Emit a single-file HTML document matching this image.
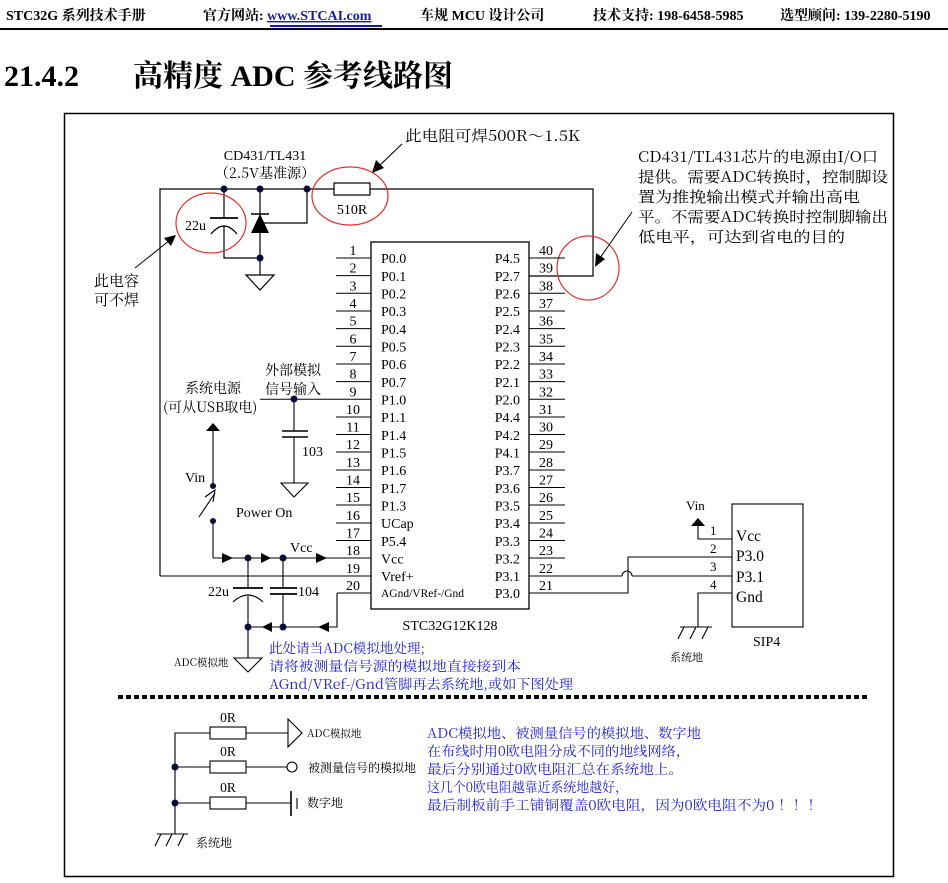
<!DOCTYPE html>
<html><head><meta charset="utf-8"><style>
html,body{margin:0;padding:0;background:#fff;width:948px;height:883px;overflow:hidden;}
svg{display:block;overflow:hidden;}
.s{font-family:"Liberation Serif","Noto Serif CJK SC",serif;}
.c{font-family:"Noto Serif CJK SC","Liberation Serif",serif;}
</style></head><body>
<svg width="948" height="883" viewBox="0 0 948 883" xmlns="http://www.w3.org/2000/svg">
<g class="s" font-size="14" font-weight="bold" fill="#000">
<text x="6" y="20">STC32G 系列技术手册</text>
<text x="203" y="20">官方网站: <tspan fill="#1a1aa6" text-decoration="underline">www.STCAI.com</tspan></text>
<text x="420" y="20">车规 MCU 设计公司</text>
<text x="593" y="20">技术支持: 198-6458-5985</text>
<text x="780" y="20">选型顾问: 139-2280-5190</text>
</g>
<rect x="270" y="25" width="112" height="2" fill="#1a1aa6"/>
<rect x="0" y="28" width="948" height="2" fill="#000"/>
<g class="s" font-size="30" font-weight="bold"><text x="4" y="86">21.4.2</text><text x="133" y="86">高精度 ADC 参考线路图</text></g>
<rect x="64.5" y="113.5" width="829" height="763" fill="none" stroke="#000" stroke-width="1.5"/>

<g stroke="#000" stroke-width="1.2" fill="none">
<polyline points="160,576 160,189 334,189"/>
<polyline points="370,189 593,189 593,276 529,276"/>
<rect x="334" y="183" width="36" height="12"/>
<line x1="224" y1="189" x2="224" y2="218"/>
<line x1="210" y1="218" x2="238" y2="218" stroke-width="1.8"/>
<path d="M211,234 Q224,218 237,234"/>
<polyline points="224,226 224,258 260,258"/>
<line x1="260" y1="189" x2="260" y2="275"/>
<line x1="251" y1="214" x2="269" y2="214" stroke-width="1.6"/>
<polyline points="260,223 307,223 307,189"/>
<polygon points="246,275 274,275 260,290"/>
</g>
<polygon points="251,233 269,233 260,214" fill="#000"/>
<g fill="#0a0a3a">
<circle cx="224" cy="189" r="3.5"/><circle cx="260" cy="189" r="3.5"/><circle cx="307" cy="189" r="3.5"/><circle cx="260" cy="258" r="3.5"/>
</g>
<g stroke="#e03030" stroke-width="1.2" fill="none">
<ellipse cx="211" cy="223" rx="35" ry="30"/>
<ellipse cx="350" cy="196" rx="38" ry="29"/>
<ellipse cx="588" cy="268" rx="31" ry="32"/>
</g>
<g stroke="#000" stroke-width="1">
<line x1="402" y1="144" x2="378" y2="167"/>
<line x1="135" y1="268" x2="170" y2="240"/>
<line x1="632" y1="212" x2="600" y2="258"/>
</g>
<polygon points="372,173 376,160 384,168" fill="#000"/>
<polygon points="176,235 164,238 171,246" fill="#000"/>
<polygon points="595,267 596,253 605,259" fill="#000"/>
<g class="s" font-size="14">
<text x="265" y="160" text-anchor="middle">CD431/TL431</text>
<text x="265" y="178" text-anchor="middle" class="c">（2.5V基准源）</text>
<text x="352" y="214" text-anchor="middle">510R</text>
<text x="185" y="230">22u</text>
</g>
<g class="c" font-size="15">
<text x="405" y="141" textLength="175" lengthAdjust="spacingAndGlyphs">此电阻可焊500R～1.5K</text>
<text x="94" y="286">此电容</text>
<text x="94" y="305">可不焊</text>
<text x="638" y="162" textLength="240" lengthAdjust="spacingAndGlyphs">CD431/TL431芯片的电源由I/O口</text>
<text x="638" y="182" textLength="250" lengthAdjust="spacingAndGlyphs">提供。需要ADC转换时，控制脚设</text>
<text x="638" y="202" textLength="222" lengthAdjust="spacingAndGlyphs">置为推挽输出模式并输出高电</text>
<text x="638" y="222" textLength="250" lengthAdjust="spacingAndGlyphs">平。不需要ADC转换时控制脚输出</text>
<text x="638" y="242" textLength="207" lengthAdjust="spacingAndGlyphs">低电平，可达到省电的目的</text>
</g>

<rect x="371" y="242" width="158" height="367" fill="none" stroke="#000" stroke-width="1.3"/>
<g stroke="#000" stroke-width="1">
<line x1="336" y1="258" x2="371" y2="258"/><line x1="336" y1="275.6" x2="371" y2="275.6"/><line x1="336" y1="293.3" x2="371" y2="293.3"/><line x1="336" y1="311" x2="371" y2="311"/><line x1="336" y1="328.6" x2="371" y2="328.6"/><line x1="336" y1="346.3" x2="371" y2="346.3"/><line x1="336" y1="364" x2="371" y2="364"/><line x1="336" y1="381.6" x2="371" y2="381.6"/><line x1="260" y1="399.3" x2="371" y2="399.3"/><line x1="336" y1="417" x2="371" y2="417"/><line x1="336" y1="434.5" x2="371" y2="434.5"/><line x1="336" y1="452" x2="371" y2="452"/><line x1="336" y1="470" x2="371" y2="470"/><line x1="336" y1="487.5" x2="371" y2="487.5"/><line x1="336" y1="505" x2="371" y2="505"/><line x1="336" y1="523" x2="371" y2="523"/><line x1="336" y1="540.5" x2="371" y2="540.5"/><line x1="213" y1="558" x2="371" y2="558"/><line x1="160" y1="576" x2="371" y2="576"/><line x1="337" y1="593" x2="371" y2="593"/>
<line x1="529" y1="258" x2="565" y2="258"/><line x1="529" y1="293.3" x2="565" y2="293.3"/><line x1="529" y1="311" x2="565" y2="311"/><line x1="529" y1="328.6" x2="565" y2="328.6"/><line x1="529" y1="346.3" x2="565" y2="346.3"/><line x1="529" y1="364" x2="565" y2="364"/><line x1="529" y1="381.6" x2="565" y2="381.6"/><line x1="529" y1="399.3" x2="565" y2="399.3"/><line x1="529" y1="417" x2="565" y2="417"/><line x1="529" y1="434.5" x2="565" y2="434.5"/><line x1="529" y1="452" x2="565" y2="452"/><line x1="529" y1="470" x2="565" y2="470"/><line x1="529" y1="487.5" x2="565" y2="487.5"/><line x1="529" y1="505" x2="565" y2="505"/><line x1="529" y1="523" x2="565" y2="523"/><line x1="529" y1="540.5" x2="565" y2="540.5"/><line x1="529" y1="558" x2="565" y2="558"/>
</g>
<g class="s" font-size="14" text-anchor="middle">
<text x="353" y="255">1</text><text x="353" y="272.6">2</text><text x="353" y="290.3">3</text><text x="353" y="308">4</text><text x="353" y="325.6">5</text><text x="353" y="343.3">6</text><text x="353" y="361">7</text><text x="353" y="378.6">8</text><text x="353" y="396.3">9</text><text x="353" y="414">10</text><text x="353" y="431.5">11</text><text x="353" y="449">12</text><text x="353" y="467">13</text><text x="353" y="484.5">14</text><text x="353" y="502">15</text><text x="353" y="520">16</text><text x="353" y="537.5">17</text><text x="353" y="555">18</text><text x="353" y="573">19</text><text x="353" y="590">20</text>
<text x="546" y="255">40</text><text x="546" y="272.6">39</text><text x="546" y="290.3">38</text><text x="546" y="308">37</text><text x="546" y="325.6">36</text><text x="546" y="343.3">35</text><text x="546" y="361">34</text><text x="546" y="378.6">33</text><text x="546" y="396.3">32</text><text x="546" y="414">31</text><text x="546" y="431.5">30</text><text x="546" y="449">29</text><text x="546" y="467">28</text><text x="546" y="484.5">27</text><text x="546" y="502">26</text><text x="546" y="520">25</text><text x="546" y="537.5">24</text><text x="546" y="555">23</text><text x="546" y="573">22</text><text x="546" y="590">21</text>
</g>
<g class="s" font-size="14">
<text x="381" y="263">P0.0</text><text x="381" y="281">P0.1</text><text x="381" y="298.5">P0.2</text><text x="381" y="316">P0.3</text><text x="381" y="334">P0.4</text><text x="381" y="351.5">P0.5</text><text x="381" y="369">P0.6</text><text x="381" y="387">P0.7</text><text x="381" y="404.5">P1.0</text><text x="381" y="422">P1.1</text><text x="381" y="440">P1.4</text><text x="381" y="457.5">P1.5</text><text x="381" y="475">P1.6</text><text x="381" y="493">P1.7</text><text x="381" y="510.5">P1.3</text><text x="381" y="528">UCap</text><text x="381" y="546">P5.4</text><text x="381" y="563.5">Vcc</text><text x="381" y="581">Vref+</text><text x="381" y="597" font-size="11.5">AGnd/VRef-/Gnd</text>
</g>
<g class="s" font-size="14" text-anchor="end">
<text x="520" y="263">P4.5</text><text x="520" y="281">P2.7</text><text x="520" y="298.5">P2.6</text><text x="520" y="316">P2.5</text><text x="520" y="334">P2.4</text><text x="520" y="351.5">P2.3</text><text x="520" y="369">P2.2</text><text x="520" y="387">P2.1</text><text x="520" y="404.5">P2.0</text><text x="520" y="422">P4.4</text><text x="520" y="440">P4.2</text><text x="520" y="457.5">P4.1</text><text x="520" y="475">P3.7</text><text x="520" y="493">P3.6</text><text x="520" y="510.5">P3.5</text><text x="520" y="528">P3.4</text><text x="520" y="546">P3.3</text><text x="520" y="563.5">P3.2</text><text x="520" y="581">P3.1</text><text x="520" y="598">P3.0</text>
</g>
<text x="450" y="630" class="s" font-size="14" text-anchor="middle">STC32G12K128</text>

<g stroke="#000" stroke-width="1.1" fill="none">
<line x1="294" y1="399" x2="294" y2="431"/>
<line x1="282" y1="431" x2="308" y2="431" stroke-width="1.6"/>
<line x1="282" y1="437" x2="308" y2="437" stroke-width="1.6"/>
<line x1="294" y1="437" x2="294" y2="483"/>
<polygon points="281,483 308,483 294,497"/>
<line x1="213" y1="430" x2="213" y2="486"/>
<polyline points="213,521 213,558"/>
<line x1="199" y1="517" x2="215" y2="493"/>
<polyline points="205,497 215,490 213,502"/>
<line x1="248" y1="558" x2="248" y2="588"/>
<line x1="233" y1="588" x2="263" y2="588" stroke-width="1.8"/>
<path d="M233,602 Q248,588 263,602"/>
<line x1="248" y1="596" x2="248" y2="658"/>
<line x1="283" y1="558" x2="283" y2="588"/>
<line x1="270" y1="588" x2="297" y2="588" stroke-width="1.8"/>
<line x1="270" y1="594" x2="297" y2="594" stroke-width="1.8"/>
<line x1="283" y1="594" x2="283" y2="627"/>
<polyline points="248,627 337,627 337,593"/>
<polygon points="234,658 262,658 248,672"/>
</g>
<g fill="#000">
<polygon points="213,423 206,431 220,431"/>
<polygon points="233,558 222,553 222,563"/><polygon points="271,558 261,553 261,563"/><polygon points="327,558 316,553 316,563"/>
<polygon points="262,627 272,622 272,632"/><polygon points="318,627 329,622 329,632"/>
</g>
<g fill="#0a0a3a">
<circle cx="294" cy="399" r="3.5"/><circle cx="213" cy="486" r="3"/><circle cx="213" cy="521" r="3"/>
<circle cx="248" cy="558" r="3.5"/><circle cx="283" cy="558" r="3.5"/><circle cx="248" cy="627" r="3.5"/><circle cx="283" cy="627" r="3.5"/>
</g>
<g class="c" font-size="14">
<text x="265" y="375">外部模拟</text><text x="265" y="394">信号输入</text>
<text x="185" y="393">系统电源</text><text x="163" y="412">(可从USB取电)</text>
</g>
<g class="s" font-size="14">
<text x="302" y="456">103</text><text x="185" y="482">Vin</text><text x="236" y="517">Power On</text>
<text x="290" y="552">Vcc</text><text x="208" y="596">22u</text><text x="298" y="596">104</text>
</g>
<text x="174" y="666" class="c" font-size="10.5">ADC模拟地</text>
<g class="c" font-size="13.5" fill="#2323d0">
<text x="269" y="653" textLength="156" lengthAdjust="spacingAndGlyphs">此处请当ADC模拟地处理;</text>
<text x="269" y="671" textLength="252" lengthAdjust="spacingAndGlyphs">请将被测量信号源的模拟地直接接到本</text>
<text x="269" y="689" textLength="304" lengthAdjust="spacingAndGlyphs">AGnd/VRef-/Gnd管脚再去系统地,或如下图处理</text>
</g>

<g stroke="#000" stroke-width="1.1" fill="none">
<polyline points="529,576 622,576"/>
<path d="M622,576 A5,5 0 0 1 632,576"/>
<polyline points="632,576 732,576"/>
<polyline points="529,593 628,593 628,557 732,557"/>
<polyline points="698,525 698,539 732,539"/>
<polyline points="732,593 698,593 698,627"/>
<line x1="680" y1="627" x2="712" y2="627"/>
<line x1="684" y1="627" x2="678" y2="639"/><line x1="696" y1="627" x2="690" y2="639"/><line x1="708" y1="627" x2="702" y2="639"/>
<rect x="732" y="504" width="71" height="123"/>
</g>
<polygon points="698,518 691,526 705,526" fill="#000"/>
<g class="s" font-size="13">
<text x="686" y="510">Vin</text><text x="710" y="535">1</text><text x="710" y="553">2</text><text x="710" y="571">3</text><text x="710" y="589">4</text>
</g>
<g class="s" font-size="15.5">
<text x="736" y="541">Vcc</text><text x="736" y="561">P3.0</text><text x="736" y="582">P3.1</text><text x="736" y="602">Gnd</text>
<text x="753" y="646" font-size="14">SIP4</text>
</g>
<text x="670" y="661" class="c" font-size="11">系统地</text>

<line x1="118" y1="697" x2="870" y2="697" stroke="#000" stroke-width="4" stroke-dasharray="5,3"/>

<g stroke="#000" stroke-width="1.1" fill="none">
<polyline points="175,834 175,733 210,733"/>
<line x1="175" y1="767" x2="210" y2="767"/><line x1="175" y1="803" x2="210" y2="803"/>
<rect x="210" y="727" width="36" height="12"/><rect x="210" y="761" width="36" height="12"/><rect x="210" y="797" width="36" height="12"/>
<line x1="246" y1="733" x2="288" y2="733"/><line x1="246" y1="767" x2="287" y2="767"/><line x1="246" y1="803" x2="291" y2="803"/>
<polygon points="288,719 302,733 288,747"/>
<circle cx="292" cy="767" r="5"/>
<line x1="291" y1="791" x2="291" y2="816" stroke-width="1.6"/>
<line x1="297" y1="798" x2="297" y2="809"/>
<line x1="157" y1="834" x2="188" y2="834"/>
<line x1="161" y1="834" x2="155" y2="846"/><line x1="172" y1="834" x2="166" y2="846"/><line x1="184" y1="834" x2="178" y2="846"/>
</g>
<circle cx="175" cy="767" r="3.5" fill="#0a0a3a"/><circle cx="175" cy="803" r="3.5" fill="#0a0a3a"/>
<g class="s" font-size="13.5" text-anchor="middle"><text x="228" y="722">0R</text><text x="228" y="756">0R</text><text x="228" y="792">0R</text></g>
<g class="c">
<text x="307" y="737" font-size="10.5">ADC模拟地</text>
<text x="308" y="772" font-size="12">被测量信号的模拟地</text>
<text x="307" y="807" font-size="12">数字地</text>
<text x="196" y="847" font-size="12">系统地</text>
</g>
<g class="c" font-size="13.5" fill="#2323d0">
<text x="427" y="738" textLength="274" lengthAdjust="spacingAndGlyphs">ADC模拟地、被测量信号的模拟地、数字地</text>
<text x="427" y="756" textLength="263" lengthAdjust="spacingAndGlyphs">在布线时用0欧电阻分成不同的地线网络，</text>
<text x="427" y="774" textLength="256" lengthAdjust="spacingAndGlyphs">最后分别通过0欧电阻汇总在系统地上。</text>
<text x="427" y="792" textLength="201" lengthAdjust="spacingAndGlyphs">这几个0欧电阻越靠近系统地越好，</text>
<text x="427" y="810" textLength="395" lengthAdjust="spacingAndGlyphs">最后制板前手工铺铜覆盖0欧电阻，因为0欧电阻不为0 ！！！</text>
</g>
</svg>
</body></html>
